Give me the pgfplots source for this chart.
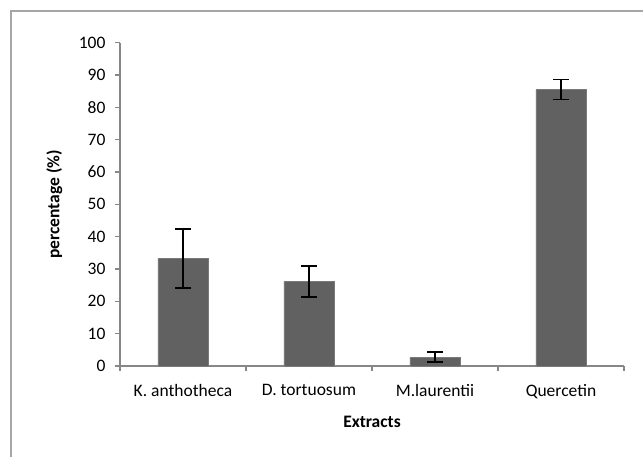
\documentclass[border=0pt]{standalone}
\usepackage{fontspec}
\setmainfont{Carlito}
\usepackage{pgfplots}
\pgfplotsset{compat=1.18}
\definecolor{barfill}{HTML}{616161}
\definecolor{baredge}{HTML}{7A7A7A}
\definecolor{axgray}{HTML}{878787}
\definecolor{framegray}{HTML}{A6A6A6}
\begin{document}
\begin{tikzpicture}[font=\fontsize{17.5}{21}\selectfont]
\useasboundingbox (0pt,0pt) rectangle (643pt,457pt);
\draw[framegray, line width=1.5pt] (11pt,0pt) -- (11pt,446pt) -- (643pt,446pt);
\begin{axis}[
  at={(120pt,91pt)}, anchor=south west,
  scale only axis, width=504pt, height=323.3pt,
  xmin=-0.5, xmax=3.5, ymin=0, ymax=100,
  axis x line*=bottom, axis y line*=left,
  axis line style={-, draw=axgray, line width=1.3pt},
  xtick={-0.5,0.5,1.5,2.5,3.5},
  x tick label as interval=true,
  xticklabels={K. anthotheca, D. tortuosum, M.laurentii, Quercetin},
  ytick={0,10,...,100},
  tick align=outside,
  major tick length=5pt,
  tick style={draw=axgray, line width=1.3pt},
  /pgf/number format/assume math mode=true,
  xticklabel style={yshift=-10pt},
  yticklabel style={xshift=-6pt},
  xlabel={\textbf{Extracts}},
  ylabel={\textbf{percentage (\%)}},
  every axis x label/.style={at={(axis description cs:0.5,-0.172)}, anchor=center},
  every axis y label/.style={at={(axis description cs:-0.13,0.5)}, rotate=90, anchor=center},
  clip=false,
]
\addplot[ybar, bar width=0.4, fill=barfill, draw=baredge, line width=0.6pt,
  error bars/.cd, y dir=both, y explicit,
  error bar style={black, line width=1.6pt},
  error mark options={rotate=90, mark size=8pt, line width=1.6pt, black}]
  coordinates {
  (0,33.25) +- (0,9.15)
  (1,26.2) +- (0,4.8)
  (2,2.75) +- (0,1.55)
  (3,85.5) +- (0,3.1)
  };
\end{axis}
\end{tikzpicture}
\end{document}
